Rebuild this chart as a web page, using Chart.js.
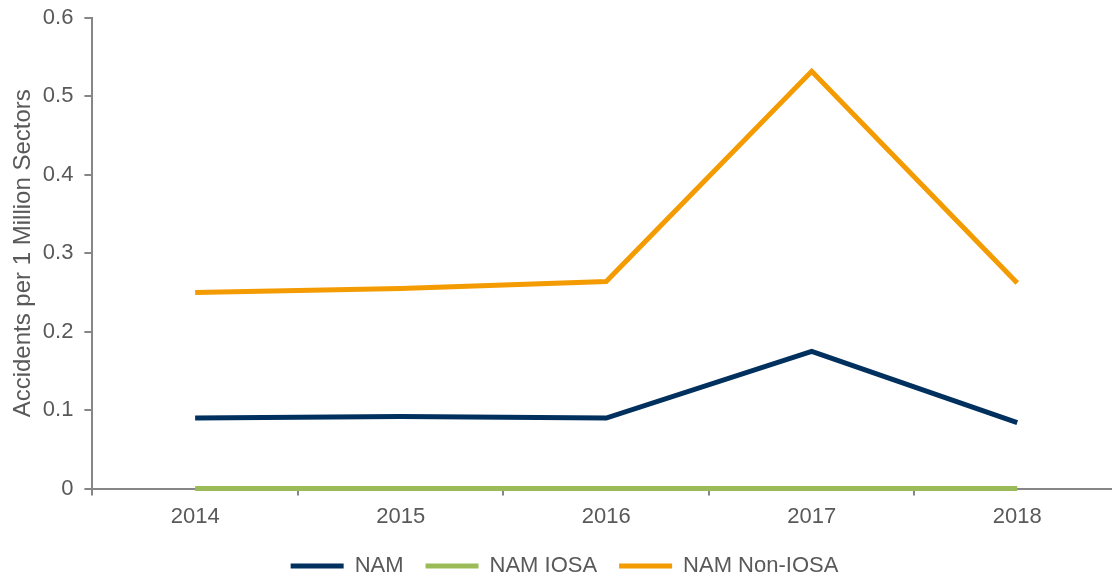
<!DOCTYPE html>
<html>
<head>
<meta charset="utf-8">
<script src="https://cdn.jsdelivr.net/npm/chart.js@4/dist/chart.umd.min.js"></script>
<style>
 html, body { margin: 0; padding: 0; background: #fff; overflow: hidden; }
 #wrap { width: 1124px; height: 576px; }
</style>
</head>
<body>
<div id="wrap"><canvas id="chart"></canvas></div>
<script>
// valores
const years = ["2014", "2015", "2016", "2017", "2018"];
const nam = [0.090, 0.092, 0.090, 0.175, 0.084];
const namIosa = [0, 0, 0, 0, 0];
const namNonIosa = [0.250, 0.255, 0.264, 0.532, 0.262];
const yTicks = [0, 0.1, 0.2, 0.3, 0.4, 0.5, 0.6];

const txt = "#595959";
const axisGray = "#868686";
const fam = "'Liberation Sans', Arial, sans-serif";

function serie(label, data, color) {
 return {
  label,
  data,
  borderColor: color,
  backgroundColor: color,
  borderWidth: 5,
  pointRadius: 0,
  tension: 0,
  borderCapStyle: "butt",
  borderJoinStyle: "miter",
  clip: false
 };
}

new Chart(document.getElementById("chart"), {
 type: "line",
 data: {
  labels: years,
  datasets: [
   serie("NAM", nam, "#00305E"),
   serie("NAM IOSA", namIosa, "#9BBB59"),
   serie("NAM Non-IOSA", namNonIosa, "#F39B00")
  ]
 },
 options: {
  responsive: true,
  maintainAspectRatio: false,
  animation: false,
  layout: { padding: { top: 0, right: 4, left: 9, bottom: -11 } },
  plugins: {
   tooltip: { enabled: false },
   legend: {
    position: "bottom",
    labels: {
     color: txt,
     font: { family: fam, size: 22 },
     boxWidth: 53,
     boxHeight: 5,
     useBorderRadius: true,
     borderRadius: 2.5,
     padding: 22,
     generateLabels(chart) {
      return chart.data.datasets.map((ds, i) => ({
       text: ds.label,
       fillStyle: ds.borderColor,
       strokeStyle: ds.borderColor,
       lineWidth: 0,
       fontColor: txt,
       datasetIndex: i,
       hidden: false
      }));
     }
    }
   }
  },
  scales: {
   x: {
    offset: true,
    afterFit(scale) {
     scale.height -= 5;
    },
    grid: {
     offset: true,
     drawOnChartArea: false,
     drawTicks: true,
     tickLength: 7,
     color: axisGray,
     lineWidth: 2
    },
    border: { color: axisGray, width: 2 },
    ticks: {
     color: txt,
     padding: 8,
     font: { family: fam, size: 22 }
    }
   },
   y: {
    min: 0,
    max: 0.6,
    afterBuildTicks(scale) {
     scale.ticks = yTicks.map(v => ({ value: v }));
    },
    afterFit(scale) {
     scale.paddingTop = 18;
    },
    grid: {
     drawOnChartArea: false,
     drawTicks: true,
     tickLength: 8,
     color: axisGray,
     lineWidth: 2
    },
    border: { color: axisGray, width: 2 },
    ticks: {
     color: txt,
     padding: 11,
     font: { family: fam, size: 22 },
     callback: v => String(Math.round(v * 10) / 10)
    },
    title: {
     display: true,
     text: "Accidents per 1 Million Sectors",
     color: txt,
     padding: { top: 0, bottom: -6 },
     font: { family: fam, size: 24 }
    }
   }
  }
 }
});
</script>
</body>
</html>
